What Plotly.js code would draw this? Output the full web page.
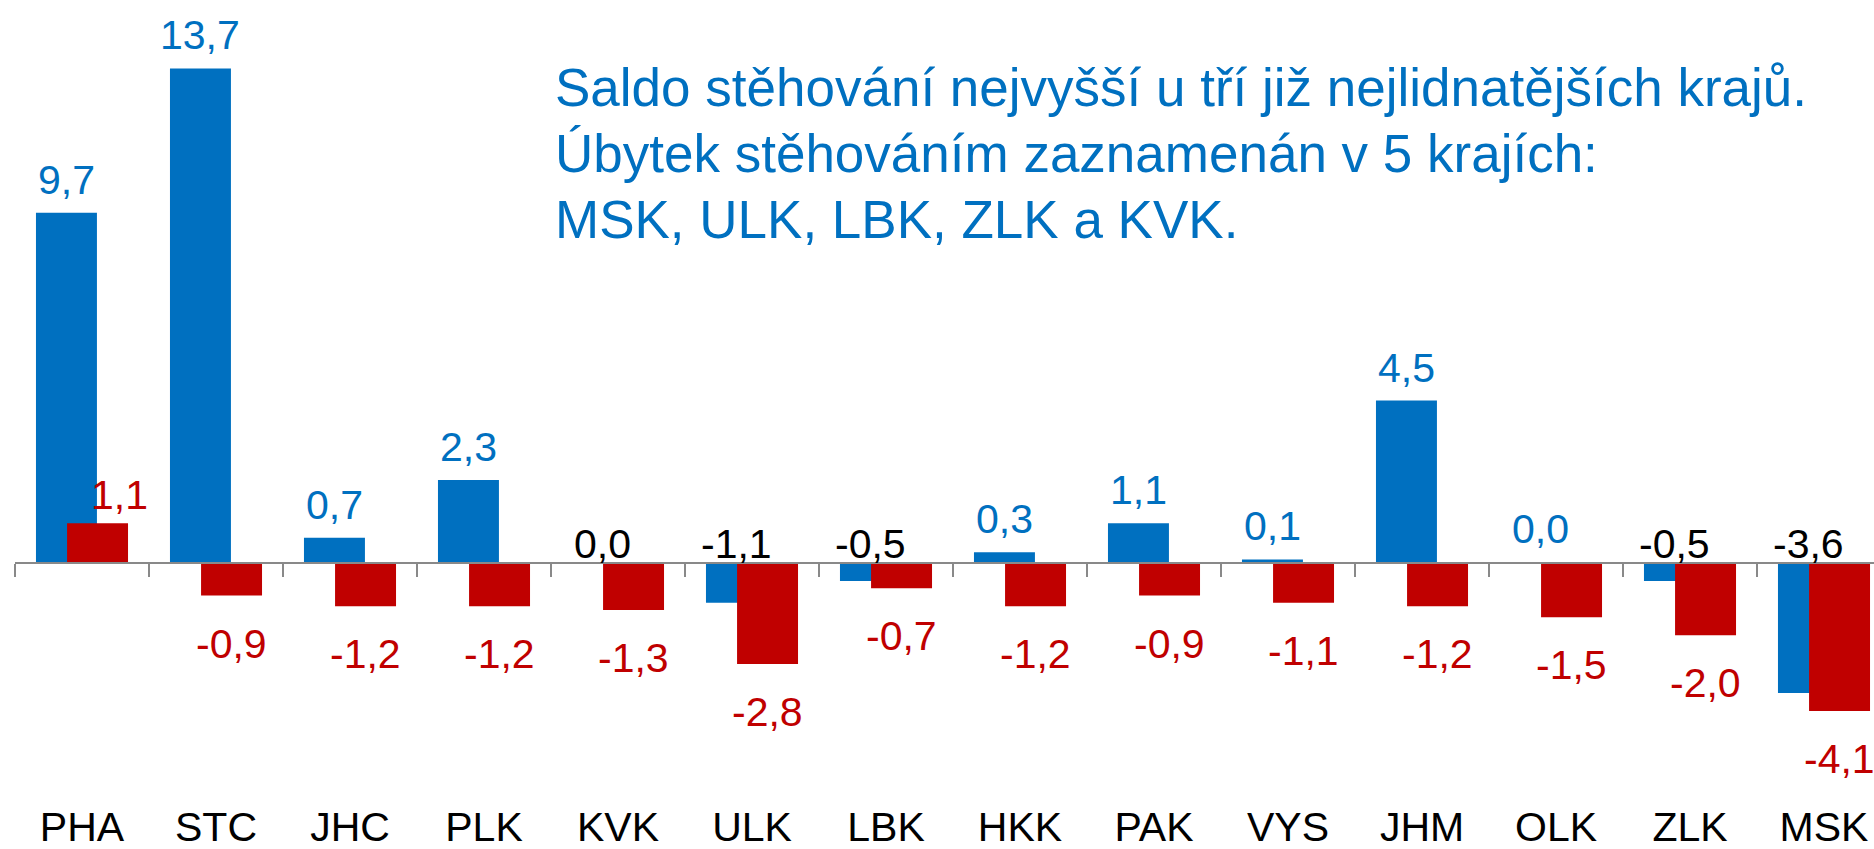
<!DOCTYPE html>
<html>
<head>
<meta charset="utf-8">
<script src="https://cdn.plot.ly/plotly-3.0.1.min.js"></script>
<style>
html,body{margin:0;padding:0;overflow:hidden;background:#fff;}
#chart{width:1900px;height:849px;}
</style>
</head>
<body>
<div id="chart"></div>
<script>
// ---- data ----
const categories = ['PHA','STC','JHC','PLK','KVK','ULK','LBK','HKK','PAK','VYS','JHM','OLK','ZLK','MSK'];
// migration balance (blue); KVK slightly negative, OLK slightly positive (both shown as 0,0)
const saldo = [9.7, 13.7, 0.7, 2.3, -0.02, -1.1, -0.5, 0.3, 1.1, 0.1, 4.5, 0.02, -0.5, -3.6];
// natural change (red)
const prirustek = [1.1, -0.9, -1.2, -1.2, -1.3, -2.8, -0.7, -1.2, -0.9, -1.1, -1.2, -1.5, -2.0, -4.1];
const titleLines = ['Saldo stěhování nejvyšší u tří již nejlidnatějších krajů.',
                    'Úbytek stěhováním zaznamenán v 5 krajích:',
                    'MSK, ULK, LBK, ZLK a KVK.'];

// ---- styles ----
const BLUE = '#0070C0', RED = '#C00000', AXIS = '#898989';
const FONT = 'Liberation Sans, Arial, sans-serif';
const BW = 0.455, SHIFT = 0.116;
const YMIN = -6.537, YMAX = 15.596;
const PLOT_H = 799;

const idx = categories.map((c, i) => i);
const fmt = v => (Math.abs(v) < 0.05 ? 0 : v).toFixed(1).replace('.', ',');

const traces = [
  {type:'bar', x: idx, y: saldo, width: BW, offset: -BW/2 - SHIFT,
   marker:{color: BLUE}, hoverinfo:'skip', xaxis:'x', yaxis:'y'},
  {type:'bar', x: idx, y: prirustek, width: BW, offset: -BW/2 + SHIFT,
   marker:{color: RED}, hoverinfo:'skip', xaxis:'x', yaxis:'y'}
];

const annotations = [];
saldo.forEach((v, i) => {
  const pos = v > 0;
  annotations.push({x: i - SHIFT, y: pos ? v : 0, xref:'x', yref:'y', text: fmt(v),
    showarrow:false, xanchor:'center', yanchor:'middle', yshift: pos ? 33 : 19,
    font:{family: FONT, size: 41, color: pos ? BLUE : '#000000'}});
});
prirustek.forEach((v, i) => {
  const pos = v > 0;
  annotations.push({x: i + SHIFT, y: v, xref:'x', yref:'y', text: fmt(v),
    showarrow:false, xanchor:'center', yanchor:'middle',
    yshift: pos ? 28 : -48, xshift: pos ? 22 : 0,
    font:{family: FONT, size: 41, color: RED}});
});
titleLines.forEach((t, k) => {
  annotations.push({xref:'paper', yref:'paper', x: (553-15)/1876, y: 1 - (56 + k*66)/PLOT_H,
    xanchor:'left', yanchor:'top', align:'left', showarrow:false,
    text: t, font:{family: FONT, size: 53, color: BLUE}});
});

const zeroPos = (0 - YMIN) / (YMAX - YMIN);
const boundaries = categories.map((c, i) => i - 0.5).concat([categories.length - 0.5]);

const layout = {
  width: 1900, height: 849,
  margin:{l:15, r:9, t:0, b:50},
  paper_bgcolor:'#ffffff', plot_bgcolor:'#ffffff',
  barmode:'overlay', showlegend:false,
  font:{family: FONT},
  xaxis:{type:'linear', range:[-0.5, categories.length - 0.5], tickvals: idx, ticktext: categories,
    showline:false, showgrid:false, zeroline:false, ticks:'',
    tickfont:{family: FONT, size: 41, color:'#000000'}, fixedrange:true},
  xaxis2:{type:'linear', overlaying:'x', anchor:'free', position: zeroPos,
    range:[-0.5, categories.length - 0.5], tickvals: boundaries, showticklabels:false,
    showline:true, linecolor: AXIS, linewidth: 2, ticks:'outside', ticklen: 13,
    tickwidth: 2, tickcolor: AXIS, showgrid:false, zeroline:false, fixedrange:true},
  yaxis:{range:[YMIN, YMAX], visible:false, showgrid:false, zeroline:false, fixedrange:true},
  annotations: annotations
};

// invisible trace to activate xaxis2
traces.push({type:'scatter', x:[0], y:[0], xaxis:'x2', yaxis:'y', mode:'markers',
  marker:{opacity:0}, hoverinfo:'skip'});

Plotly.newPlot('chart', traces, layout, {staticPlot:true, displayModeBar:false});
</script>
</body>
</html>
